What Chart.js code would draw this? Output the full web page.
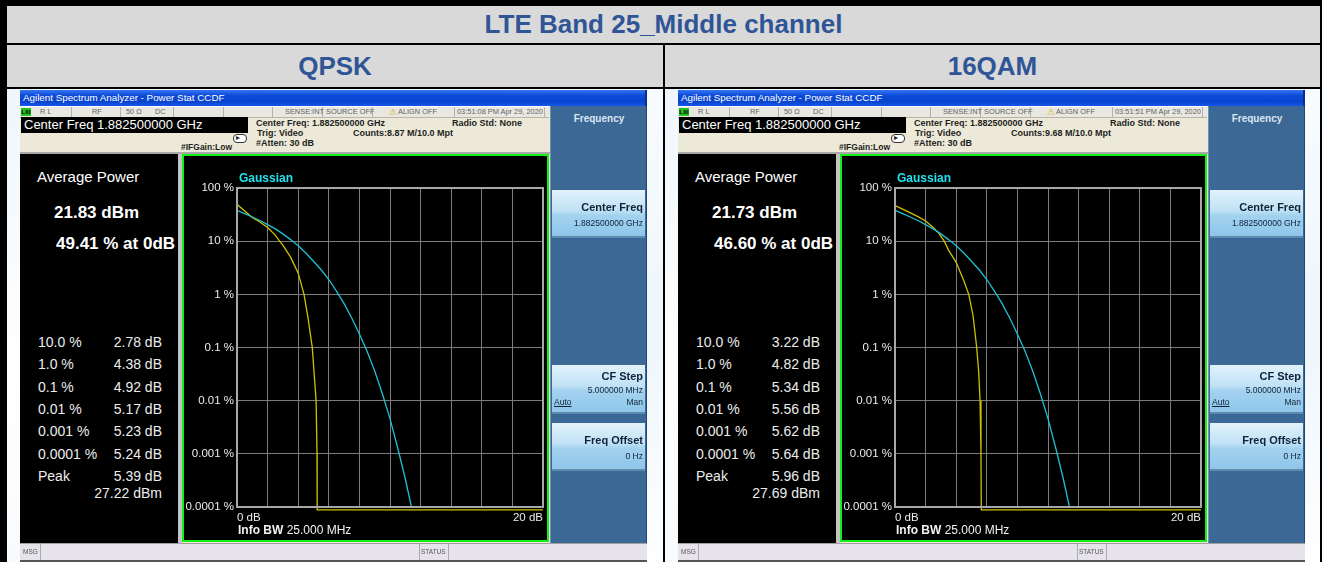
<!DOCTYPE html>
<html>
<head>
<meta charset="utf-8">
<script src="https://cdn.jsdelivr.net/npm/chart.js@4.4.1/dist/chart.umd.min.js"></script>
<style>
body{margin:0;width:1328px;height:562px;overflow:hidden;background:#fff;position:relative;font-family:"Liberation Sans",Arial,sans-serif}
.abs{position:absolute}
.hdr{background:#d9d9d9;color:#2f5597;font-weight:bold;font-size:26px;display:flex;align-items:center;justify-content:center}
.cell3{background:linear-gradient(120deg,#eef6fc 0%,#fff 18%,#f2f8fd 40%,#fff 60%,#eef6fc 85%,#fff 100%)}
.scr{position:absolute;top:90px;width:627px;height:472px;overflow:hidden;background:#ece9d8}
.tbar{background:linear-gradient(#3576f2,#0b4ad8 35%,#0843cc 70%,#1656e8);border-right:2px solid #0a2f8a}
.btn{background:linear-gradient(#e2f2fb,#bfe1f5 45%,#a3d2ef 55%,#8ec6ea);border-bottom:2px solid #5b8bb5;box-shadow:0 -1px 0 #9cc3de inset}
</style>
</head>
<body>
<script>
// y axis (log, percent) and x axis (dB)
const yTickValues = [0.0001, 0.001, 0.01, 0.1, 1, 10, 100];
const yTickLabels = ['0.0001 %', '0.001 %', '0.01 %', '0.1 %', '1 %', '10 %', '100 %'];
const xEdgeLabels = ['0 dB', '20 dB'];

// Gaussian reference trace (cyan)
const gaussDb  = [0, 0.5, 1, 1.5, 2, 2.5, 3, 3.5, 4, 4.5, 5, 5.5, 6, 6.5, 7, 7.5, 8, 8.5, 9, 9.5, 10, 10.5, 11, 11.4];
const gaussPct = [38, 33, 28.5, 24.5, 20.5, 17, 13.7, 10.7, 8.2, 6, 4.2, 2.9, 1.9, 1.15, 0.67, 0.36, 0.18, 0.085, 0.036, 0.0135, 0.0046, 0.0013, 0.00034, 0.0001];

// measured CCDF traces (yellow)
const qpskDb  = [0, 0.5, 1, 1.5, 2, 2.5, 2.78, 3, 3.5, 4, 4.38, 4.65, 4.92, 5.05, 5.17, 5.23, 5.24, 5.24, 20];
const qpskPct = [49.41, 37, 28, 23, 18, 13, 10, 8.4, 5, 2.5, 1, 0.35, 0.1, 0.03, 0.01, 0.001, 0.0001, 0.000088, 0.000088];
const qamDb  = [0, 0.5, 1, 1.5, 2, 2.5, 2.87, 3.22, 3.5, 4, 4.5, 4.82, 5.1, 5.34, 5.47, 5.56, 5.62, 5.64, 5.64, 20];
const qamPct = [46.6, 40, 34, 29, 24, 18, 14, 10, 6.8, 4, 1.8, 1, 0.4, 0.1, 0.035, 0.01, 0.001, 0.0001, 0.000088, 0.000088];

// side panel numbers
const statLevels = ['10.0 %', '1.0 %', '0.1 %', '0.01 %', '0.001 %', '0.0001 %', 'Peak'];
const qpskStats = ['2.78 dB', '4.38 dB', '4.92 dB', '5.17 dB', '5.23 dB', '5.24 dB', '5.39 dB'];
const qamStats  = ['3.22 dB', '4.82 dB', '5.34 dB', '5.56 dB', '5.62 dB', '5.64 dB', '5.96 dB'];

function el(parent, css, text, cls) {
  const d = document.createElement('div');
  d.className = 'abs ' + (cls || '');
  d.style.cssText = css;
  if (text != null) d.textContent = text;
  parent.appendChild(d);
  return d;
}
function txt(parent, x, cy, text, css, align) {
  const w = 300;
  const left = align === 'r' ? x - w : align === 'c' ? x - w / 2 : x;
  const ta = align === 'r' ? 'right' : align === 'c' ? 'center' : 'left';
  return el(parent, `left:${left}px;top:${cy - 10}px;width:${w}px;height:20px;line-height:20px;white-space:nowrap;text-align:${ta};${css || ''}`, text);
}

// table frame
const B = document.body;
el(B, 'left:0;top:0;width:1322px;height:562px;background:#000');
el(B, 'left:7px;top:6px;width:1313px;height:37px', 'LTE Band 25_Middle channel', 'hdr');
el(B, 'left:7px;top:45px;width:656px;height:42px', 'QPSK', 'hdr');
el(B, 'left:665px;top:45px;width:655px;height:42px', '16QAM', 'hdr');
el(B, 'left:7px;top:89px;width:656px;height:473px', null, 'cell3');
el(B, 'left:665px;top:89px;width:655px;height:473px', null, 'cell3');

const frameBox = {
  id: 'frameBox',
  afterDraw(chart) {
    const a = chart.chartArea, c = chart.ctx;
    c.save();
    c.strokeStyle = '#a8a8a8';
    c.lineWidth = 2;
    c.strokeRect(a.left, a.top, a.right - a.left, a.bottom - a.top);
    c.restore();
  }
};

function buildChart(canvas, measDb, measPct) {
  return new Chart(canvas, {
    type: 'line',
    data: {
      datasets: [
        {
          label: 'Gaussian',
          data: gaussDb.map((x, i) => ({ x, y: gaussPct[i] })),
          borderColor: '#1fc0d2',
          borderWidth: 1.3,
          pointRadius: 0,
          tension: 0
        },
        {
          label: 'Measured',
          data: measDb.map((x, i) => ({ x, y: measPct[i] })),
          borderColor: '#cdc200',
          borderWidth: 1.3,
          pointRadius: 0,
          tension: 0,
          clip: { left: 0, top: 0, right: 0, bottom: 6 }
        }
      ]
    },
    options: {
      responsive: false,
      animation: false,
      layout: { padding: { top: 32, right: 1, left: 0, bottom: 0 } },
      plugins: { legend: { display: false }, tooltip: { enabled: false } },
      scales: {
        x: {
          type: 'linear', min: 0, max: 20,
          afterFit: s => { s.height = 33; },
          grid: { color: '#7c7c7c', lineWidth: 1, drawTicks: false },
          border: { color: '#a8a8a8', width: 2 },
          ticks: {
            stepSize: 2, autoSkip: false, maxRotation: 0, align: 'inner', padding: 4,
            color: '#ececec', font: { family: 'Liberation Sans', size: 11.5 },
            callback: v => v === 0 ? xEdgeLabels[0] : v === 20 ? xEdgeLabels[1] : ''
          }
        },
        y: {
          type: 'logarithmic', min: 0.0001, max: 100,
          afterFit: s => { s.width = 53; },
          afterBuildTicks: s => { s.ticks = yTickValues.map(v => ({ value: v })); },
          grid: { color: '#7c7c7c', lineWidth: 1, drawTicks: false },
          border: { color: '#a8a8a8', width: 2 },
          ticks: {
            padding: 3, color: '#ececec', font: { family: 'Liberation Sans', size: 11.5 },
            callback: v => {
              const i = yTickValues.findIndex(t => Math.abs(Math.log10(t) - Math.log10(v)) < 1e-6);
              return yTickLabels[i];
            }
          }
        }
      }
    },
    plugins: [frameBox]
  });
}

function buildScreen(left, time, counts, avg, at0, stats, peakDbm, measDb, measPct) {
  const S = el(B, `left:${left}px`, null, 'scr');
  S.className = 'scr';

  // title bar
  el(S, 'left:0;top:0;width:625px;height:16px', null, 'tbar');
  txt(S, 3, 8, 'Agilent Spectrum Analyzer - Power Stat CCDF',
    'color:#fff;font-family:"Liberation Sans Narrow","Liberation Sans",sans-serif;font-size:9.8px');

  // status row
  const row = el(S, 'left:0;top:16px;width:529px;height:10px;background:#e9e7e1;border-bottom:1px solid #b9b5aa;border-top:1px solid #fff');
  [51, 100, 153, 203, 252, 302, 352, 434, 524].forEach(x => el(row, `left:${x}px;top:0;width:1px;height:10px;background:#b5b1a6`));
  el(row, 'left:1px;top:1px;width:10px;height:8px;background:#22c21e;color:#000;font-size:6px;line-height:8px;font-weight:bold;text-align:center', 'LXI');
  const sCss = 'color:#626262;font-size:7.4px;font-family:"Liberation Sans Narrow","Liberation Sans",sans-serif';
  txt(row, 20, 5, 'R L', sCss);
  txt(row, 72, 5, 'RF', sCss);
  txt(row, 106, 5, '50 Ω', sCss);
  txt(row, 135, 5, 'DC', sCss);
  txt(row, 265, 5, 'SENSE:INT', sCss);
  txt(row, 306, 5, 'SOURCE OFF', sCss);
  txt(row, 369, 5, '⚠', 'color:#d9a800;font-size:9px');
  txt(row, 378, 5, 'ALIGN OFF', sCss);
  txt(row, 437, 5, time, sCss);

  // measurement info
  el(S, 'left:1px;top:27px;width:227px;height:16px;background:#000');
  txt(S, 4, 35, 'Center Freq 1.882500000 GHz', 'color:#fff;font-size:13px');
  const iCss = 'color:#1e1e1e;font-size:9px;font-weight:bold';
  txt(S, 236, 33, 'Center Freq: 1.882500000 GHz', iCss);
  txt(S, 432, 33, 'Radio Std: None', iCss);
  txt(S, 237, 43, 'Trig: Video', iCss);
  txt(S, 333, 43, counts, iCss);
  txt(S, 236, 53, '#Atten: 30 dB', iCss);
  txt(S, 161, 57, '#IFGain:Low', 'color:#1e1e1e;font-size:8.5px;font-weight:bold');
  el(S, 'left:213px;top:44px;width:12px;height:7px;border:1px solid #333;border-radius:4px;background:#fff');
  txt(S, 216, 48, '▸', 'color:#222;font-size:8px');
  el(S, 'left:0;top:62px;width:530px;height:2px;background:#a9a9a9');

  // left readout panel
  el(S, 'left:0;top:64px;width:158px;height:389px;background:#000');
  el(S, 'left:158px;top:64px;width:4px;height:389px;background:#c4c4c4');
  txt(S, 17, 87, 'Average Power', 'color:#fff;font-size:15px');
  txt(S, 34, 123, avg, 'color:#fff;font-size:17px;font-weight:bold');
  txt(S, 36, 154, at0, 'color:#fff;font-size:17px;font-weight:bold');
  const rowsY = [252, 274, 296.5, 319, 341, 363.5, 386];
  statLevels.forEach((lab, i) => {
    txt(S, 18, rowsY[i], lab, 'color:#ececec;font-size:14px');
    txt(S, 142, rowsY[i], stats[i], 'color:#ececec;font-size:14px', 'r');
  });
  txt(S, 142, 403, peakDbm, 'color:#ececec;font-size:14px', 'r');

  // chart frame
  const F = el(S, 'left:162px;top:64px;width:363px;height:384px;border:2px solid #14f014;background:#000');
  const cv = document.createElement('canvas');
  cv.width = 363; cv.height = 384;
  cv.style.cssText = 'position:absolute;left:0;top:0;width:363px;height:384px';
  F.appendChild(cv);
  txt(S, 219, 88, 'Gaussian', 'color:#22e2ef;font-size:12px;font-weight:bold');
  const info = txt(S, 218, 440, '', 'color:#f2f2f2;font-size:12px');
  info.innerHTML = '<b>Info BW</b> 25.000 MHz';
  buildChart(cv, measDb, measPct);

  // softkey panel
  const P = el(S, 'left:530px;top:16px;width:95px;height:437px;background:#3c6896;border-left:1px solid #6d90b5;border-right:2px solid #22466e');
  txt(P, 48, 13, 'Frequency', 'color:#dbe6f2;font-size:10px;font-weight:bold', 'c');
  const b1 = el(S, 'left:532px;top:100px;width:93px;height:46px', null, 'btn');
  txt(b1, 91, 17, 'Center Freq', 'color:#102238;font-size:11px;font-weight:bold', 'r');
  txt(b1, 91, 33, '1.882500000 GHz', 'color:#102238;font-size:8.5px', 'r');
  const b2 = el(S, 'left:532px;top:275px;width:93px;height:47px', null, 'btn');
  txt(b2, 91, 11, 'CF Step', 'color:#102238;font-size:11px;font-weight:bold', 'r');
  txt(b2, 91, 25, '5.000000 MHz', 'color:#102238;font-size:8.5px', 'r');
  txt(b2, 2, 37, 'Auto', 'color:#102238;font-size:8.5px;text-decoration:underline');
  txt(b2, 91, 37, 'Man', 'color:#102238;font-size:8.5px', 'r');
  const b3 = el(S, 'left:532px;top:333px;width:93px;height:46px', null, 'btn');
  txt(b3, 91, 17, 'Freq Offset', 'color:#102238;font-size:11px;font-weight:bold', 'r');
  txt(b3, 91, 33, '0 Hz', 'color:#102238;font-size:8.5px', 'r');

  // bottom status bar
  const bar = el(S, 'left:0;top:453px;width:627px;height:17px;background:#e6e4ea;border-top:1px solid #a0a0a0;box-sizing:border-box');
  el(bar, 'left:20px;top:0;width:1px;height:16px;background:#aaa');
  el(bar, 'left:399px;top:0;width:1px;height:16px;background:#aaa');
  el(bar, 'left:428px;top:0;width:1px;height:16px;background:#aaa');
  txt(bar, 3, 8, 'MSG', 'color:#555;font-size:6.5px');
  txt(bar, 401, 8, 'STATUS', 'color:#555;font-size:6.5px');
  el(S, 'left:0;top:470px;width:627px;height:2px;background:#555');
}

buildScreen(20, '03:51:08 PM Apr 29, 2020', 'Counts:8.87 M/10.0 Mpt', '21.83 dBm', '49.41 % at 0dB',
  qpskStats, '27.22 dBm', qpskDb, qpskPct);
buildScreen(678, '03:51:51 PM Apr 29, 2020', 'Counts:9.68 M/10.0 Mpt', '21.73 dBm', '46.60 % at 0dB',
  qamStats, '27.69 dBm', qamDb, qamPct);
</script>
</body>
</html>
